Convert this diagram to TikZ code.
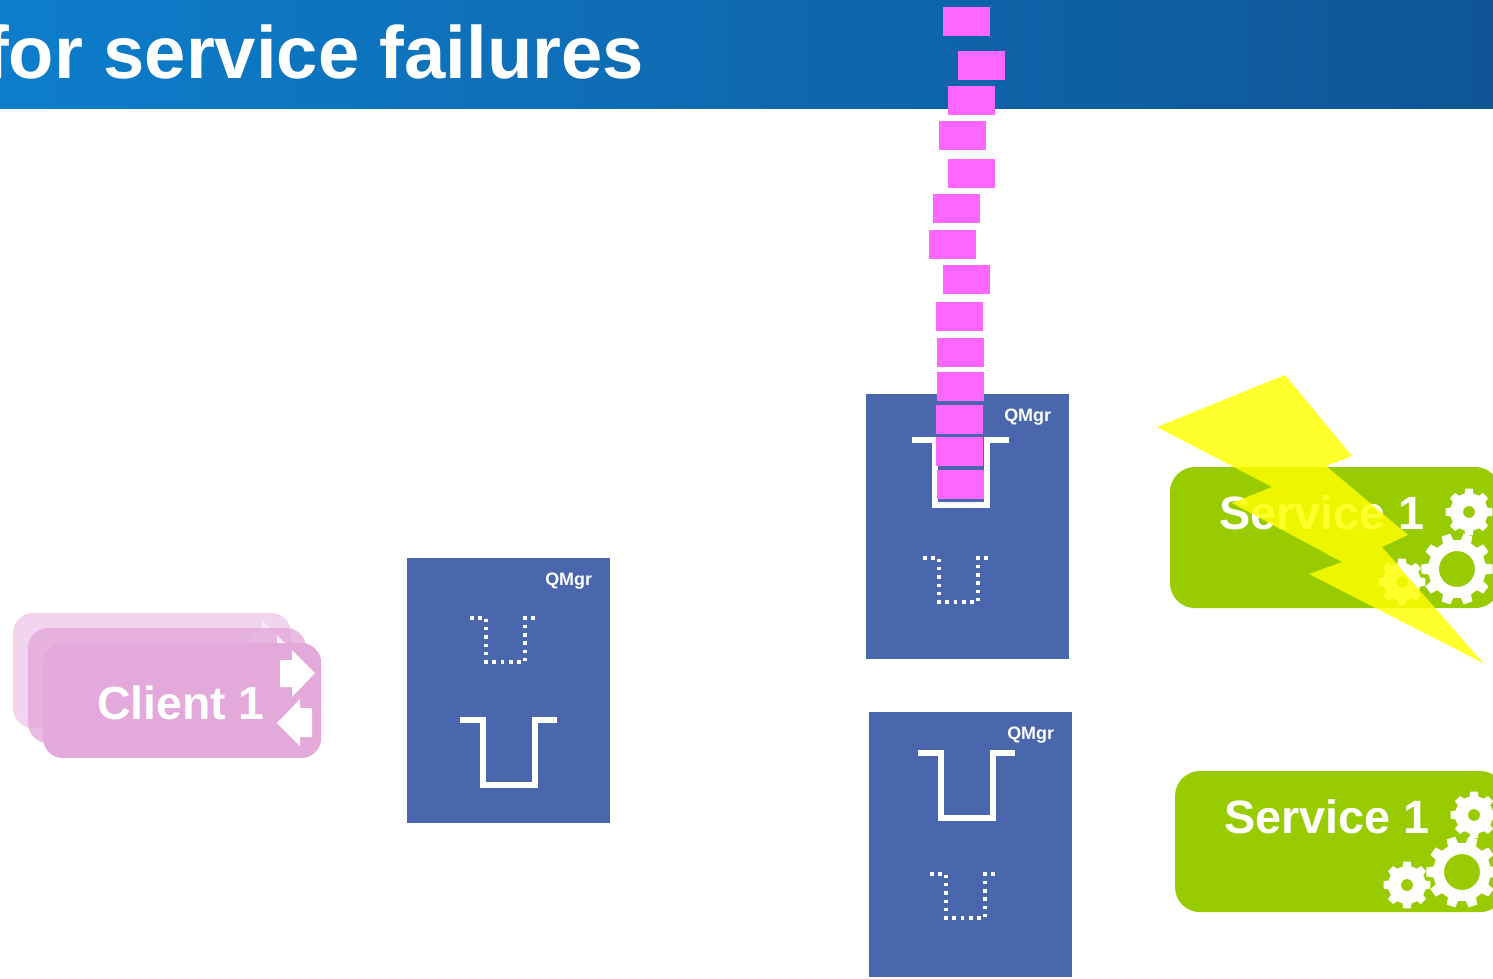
\documentclass[tikz,border=0pt]{standalone}
\usepackage{fontspec}
\setmainfont{Liberation Sans}
\usetikzlibrary{positioning}
\definecolor{qblue}{HTML}{4A66AC}
\definecolor{msgpink}{HTML}{FF66FF}
\definecolor{svcgreen}{HTML}{99CC00}
\definecolor{clientpink}{HTML}{E3A9DB}
\definecolor{headleft}{HTML}{0D7DCB}
\definecolor{headright}{HTML}{0F5595}
\definecolor{boltyellow}{rgb}{1,1,0}
\tikzset{
  every node/.style={outer sep=0pt},
  qmgr/.style={fill=qblue,anchor=north west,inner sep=0pt,minimum width=2.03cm,minimum height=2.65cm},
  qlabel/.style={text=white,inner sep=0pt,font=\bfseries\fontsize{5.1}{6}\selectfont},
  msg/.style={fill=msgpink,anchor=north west,inner sep=0pt,minimum width=.47cm,minimum height=.29cm},
  service/.style={fill=svcgreen,anchor=north west,inner sep=0pt,rounded corners=.25cm,minimum width=3.3cm,minimum height=1.41cm},
  svclabel/.style={text=white,inner sep=0pt,font=\bfseries\fontsize{13.3}{15}\selectfont},
  client/.style={fill=clientpink,anchor=north west,inner sep=0pt,rounded corners=.2cm,minimum width=2.78cm,minimum height=1.15cm},
  pics/fullqueue/.style={code={\draw[white,line width=1.5pt] (0,0) -- (23,0) -- (23,65) -- (75,65) -- (75,0) -- (97,0);}},
  pics/emptyqueue/.style={code={\draw[white,line width=1pt,dash pattern=on 1pt off 1.36pt] (0,0) -- (16,0) -- (16,44) -- (55,44) -- (55,0) -- (69,0);}},
  pics/gearwheel/.style n args={3}{code={\fill[white,even odd rule] (-.3*#3:#1)
    \foreach \a in {0,#3,...,359} {-- (\a-.3*#3:#1) -- (\a-.2*#3:#1*1.24) -- (\a+.2*#3:#1*1.24) -- (\a+.3*#3:#1)} -- cycle
    (0,0) circle[radius=#2];}},
}
\begin{document}
\begin{tikzpicture}[x=.01cm,y=-.01cm]
\useasboundingbox (0,0) rectangle (1493,978);
\node (header) [anchor=north west,inner sep=0pt,minimum width=14.93cm,minimum height=1.085cm,left color=headleft,right color=headright] at (0,0) {};
\node (title) [anchor=base east,inner sep=0pt,text=white,font=\bfseries\fontsize{21.1}{24}\selectfont] at (644,78) {for service failures};
\foreach \n/\op/\x in {1/.5/13,2/.8/28,3/1/43} {
  \begin{scope}[opacity=\op,shift={(\x-43,\x-43)}]
  \node (client\n) [client] at (43,643) {};
  \fill[white] (280,660) -- (292,660) -- (292,650) -- (315,673) -- (292,697) -- (292,687) -- (280,687) -- cycle;
  \fill[white] (312,708) -- (300,708) -- (300,699) -- (277,723) -- (300,746) -- (300,737) -- (312,737) -- cycle;
  \end{scope}
}
\node (clientname) [svclabel,font=\bfseries\fontsize{13.2}{15}\selectfont] at (181,703) {Client 1};
\node (qmgrB) [qmgr] at (407,558) {};
\node (qmgrA) [qmgr] at (866,394) {};
\node (qmgrC) [qmgr] at (869,712) {};
\foreach \q in {qmgrA,qmgrB,qmgrC}
  \node (\q name) [qlabel,below left=.15cm and .18cm of \q.north east] {QMgr};
\pic at (912,440) {fullqueue};
\pic at (923,558) {emptyqueue};
\pic at (470,618) {emptyqueue};
\pic at (460,720) {fullqueue};
\pic at (918,753) {fullqueue};
\pic at (930,874) {emptyqueue};
\foreach \x/\y [count=\n] in {943/7,958/51,948/86,939/121,948/159,933/194,929/230,943/265,936/302,937/338,937/372,936/405,936/437,937/470}
  \node (msg\n) [msg] at (\x,\y) {};
\node (serviceA) [service] at (1170,467) {};
\node (serviceB) [service] at (1175,771) {};
\foreach \s in {serviceA,serviceB} {
  \node (\s name) [svclabel,below right=.29cm and .49cm of \s.north west] {Service 1};
}
\foreach \dx/\dy in {0/0,5/303} {
  \pic at (1469+\dx,512+\dy) {gearwheel={19}{6}{45}};
  \pic at (1457+\dx,569+\dy) {gearwheel={29}{18}{36}};
  \pic at (1402+\dx,582+\dy) {gearwheel={19}{6}{45}};
}
\fill[boltyellow,opacity=.83] (1285,375) -- (1352,456) -- (1326,466) -- (1408,535) -- (1382,547) -- (1483,663) -- (1309,574) -- (1342,562) -- (1232,503) -- (1272,487) -- (1157,427) -- cycle;
\end{tikzpicture}
\end{document}
